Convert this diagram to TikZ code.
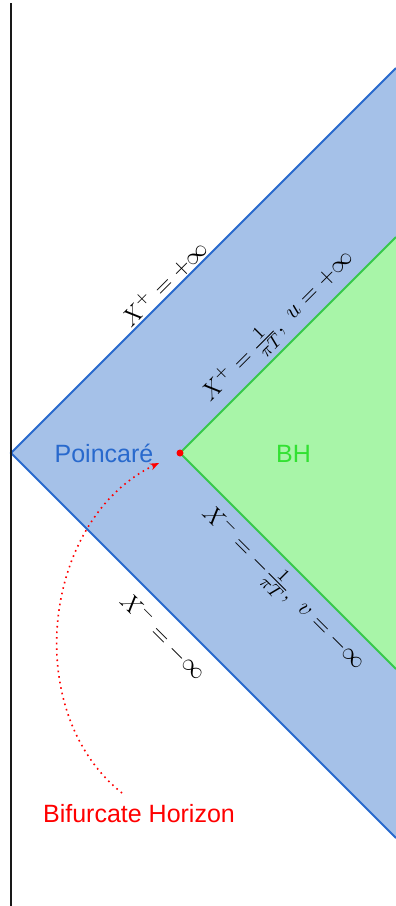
\documentclass[tikz,border=0pt]{standalone}
\usepackage{fontspec}
\setsansfont{Liberation Sans}
\usetikzlibrary{arrows.meta}
\definecolor{bfill}{RGB}{165,193,232}
\definecolor{bline}{RGB}{40,105,205}
\definecolor{gfill}{RGB}{168,245,168}
\definecolor{gline}{RGB}{55,200,75}
\definecolor{gtext}{RGB}{50,225,50}
\begin{document}
\begin{tikzpicture}[x=0.5pt,y=-0.5pt,
  sanslabel/.style={font=\sffamily\fontsize{12.5}{15}\selectfont, inner sep=0pt},
  mathlabel/.style={font=\fontsize{12.5}{15}\selectfont, inner sep=0pt},
  edge/.style={line width=1pt}]
\useasboundingbox (0,0) rectangle (396,906);
\coordinate (L) at (11,453);
\coordinate (BT) at (396,68);
\coordinate (BB) at (396,838);
\coordinate (G) at (180,453);
\coordinate (GT) at (396,237);
\coordinate (GB) at (396,669);
\coordinate (VT) at (11,3);
\coordinate (VB) at (11,906);
\fill[bfill] (L) -- (BT) -- (BB) -- cycle;
\fill[gfill] (G) -- (GT) -- (GB) -- cycle;
\draw[bline, edge] (BT) -- (L) -- (BB);
\draw[gline, edge] (GT) -- (G) -- (GB);
\draw[black!90, line width=1.1pt] (VT) -- (VB);
\node[mathlabel, rotate=45] (xpinf) at (164,283) {$X^+ = +\infty$};
\node[mathlabel, rotate=45] (xpT) at (278,326) {$X^+ = \frac{1}{\pi T},\ u = +\infty$};
\node[mathlabel, rotate=-45] (xmT) at (284,588) {$X^- = -\frac{1}{\pi T},\ v = -\infty$};
\node[mathlabel, rotate=-45] (xminf) at (164,636) {$X^- = -\infty$};
\node[sanslabel, text=bline, anchor=base] (poin) at (104,462) {Poincaré};
\node[sanslabel, text=gtext, anchor=base] (bh) at (293.5,462) {BH};
\node[sanslabel, text=red, anchor=base] (bif) at (139,822) {Bifurcate Horizon};
\fill[red] (G) circle (1.75pt);
\coordinate (AS) at (122,793);
\coordinate (AE) at (159,463);
\draw[red, line width=0.8pt, dotted, -{Stealth[length=4.5pt,width=3.5pt]}] (AS) to[bend left=58] (AE);
\end{tikzpicture}
\end{document}
